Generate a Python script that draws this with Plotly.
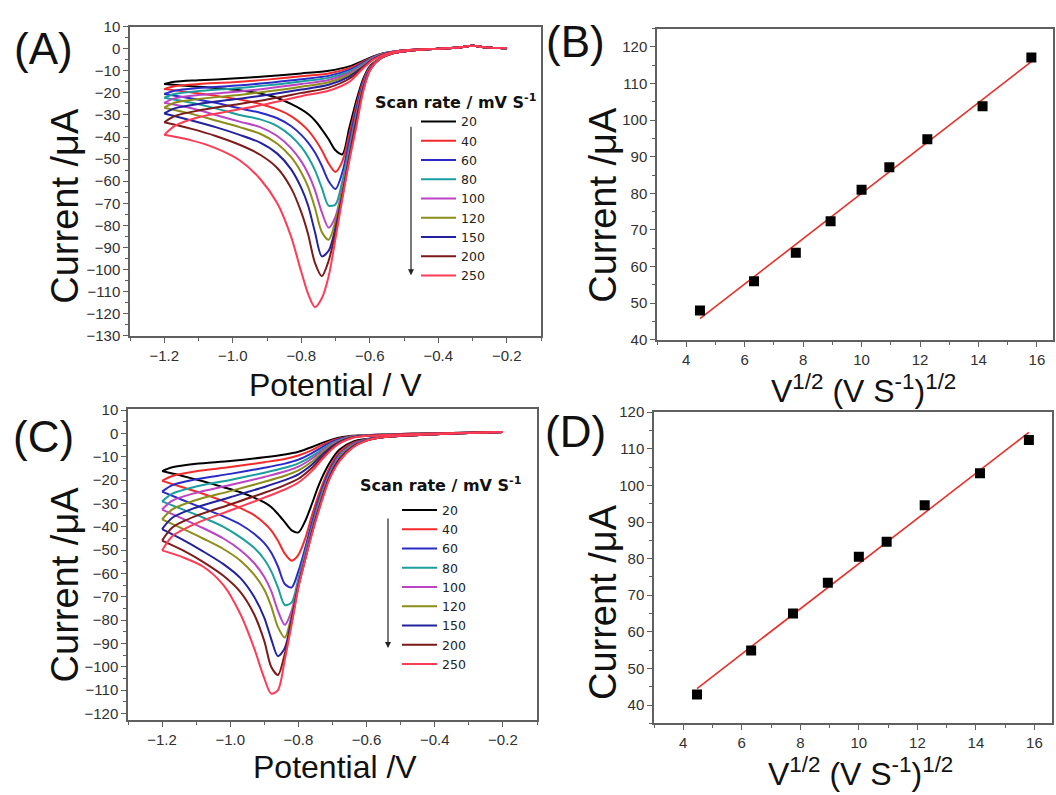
import numpy as np
import plotly.graph_objects as go

W, H = 1056, 795

SCAN_RATES = ["20", "40", "60", "80", "100", "120", "150", "200", "250"]
COLORS = ["#000000", "#f52a2a", "#2b2bc8", "#1a9e9e", "#bb44c4",
          "#8d8d1a", "#22229e", "#7d1a1a", "#ff3b55"]

# ---------------- Panel A : CV curves ----------------
A_FWD_PRE_E = [-0.20, -0.26, -0.30, -0.34, -0.40, -0.48, -0.53, -0.57]
A_FWD_PRE_I = [0.2, 0.6, 1.3, 0.5, 0.0, -0.8, -2.0, -4.5]
A_FWD_E = [-0.60, -0.62, -0.64, -0.66, -0.68, -0.70, -0.72, -0.74, -0.76,
           -0.78, -0.80, -0.83, -0.87, -0.92, -0.98, -1.05, -1.12, -1.20]
A_FWD_20 = [-8, -14, -24, -36, -47.8, -46, -41, -36.5, -32.5, -29.6, -27.5, -25, -22.3, -20.3, -18.8, -17.8, -17, -16]
A_FWD_40 = [-8.5, -15, -26, -39, -51, -55.8, -52, -46, -41, -37, -34, -30.5, -27.5, -25, -23, -21.3, -19.8, -18.3]
A_FWD_60 = [-9, -16, -28, -42, -56, -63.5, -60, -53, -47, -42.5, -39, -35, -31.5, -29, -27, -24.5, -22.5, -20.5]
A_FWD_80 = [-9, -17, -30, -45, -60, -70.5, -71, -63, -55, -49, -44.5, -39.5, -35, -32, -30, -27, -24.5, -22.2]
A_FWD_100 = [-9, -17, -31, -47, -63, -76, -81, -74, -64, -56.5, -51, -45, -39.5, -35.5, -33, -30, -27, -24.5]
A_FWD_120 = [-9.5, -18, -32, -48, -64, -78, -86.5, -83, -72, -62.5, -56, -49, -43, -38.5, -35.5, -32.5, -29.5, -26.7]
A_FWD_150 = [-9.5, -18.5, -33, -49, -66, -81, -91.5, -94, -83, -71, -63, -54.5, -47.5, -42.5, -39, -35.5, -32.5, -29.3]
A_FWD_200 = [-10, -19, -34, -50, -67, -83, -96, -103, -97, -84, -74, -63, -54, -48, -43.5, -39.5, -36.3, -33.3]
A_FWD_250 = [-10, -20, -36, -51, -68, -86, -103, -113, -117, -111, -101, -85, -70, -59, -50.5, -45, -41.5, -39]

A_REV_E = [-1.17, -1.10, -1.00, -0.90, -0.80, -0.72, -0.66, -0.62, -0.59, -0.56]
A_REV_SUF_E = [-0.52, -0.46, -0.40, -0.34, -0.30, -0.26, -0.20]
A_REV_SUF_I = [-1.1, -0.4, 0.0, 0.5, 1.3, 0.6, 0.2]
A_REV_20 = [-15, -14.3, -13.5, -12.5, -11.2, -10, -8, -5.5, -3.5, -2]
A_REV_40 = [-17, -16, -15.2, -14, -12.5, -11.2, -8.8, -6, -3.7, -2.1]
A_REV_60 = [-19, -17.8, -16.8, -15.5, -13.8, -12.3, -9.6, -6.5, -3.9, -2.2]
A_REV_80 = [-20.5, -19.2, -18, -16.6, -14.8, -13.2, -10.3, -7, -4.1, -2.3]
A_REV_100 = [-22.5, -21, -19.6, -18, -16, -14.2, -11, -7.4, -4.3, -2.4]
A_REV_120 = [-24.5, -22.8, -21.2, -19.4, -17.2, -15.2, -11.8, -7.8, -4.5, -2.5]
A_REV_150 = [-27, -25, -23, -21, -18.5, -16.3, -12.6, -8.2, -4.7, -2.6]
A_REV_200 = [-30.5, -28, -25.5, -23, -20, -17.6, -13.6, -8.6, -4.9, -2.7]
A_REV_250 = [-35, -31, -28, -25, -21.5, -19, -15, -9, -5, -2.8]

# ---------------- Panel C : CV curves ----------------
C_FWD_PRE_E = [-0.20, -0.30, -0.40, -0.50, -0.56]
C_FWD_PRE_I = [0.6, 0.2, -0.3, -1.0, -1.7]
C_FWD_E = [-0.60, -0.64, -0.68, -0.71, -0.74, -0.76, -0.78, -0.80, -0.82, -0.84,
           -0.86, -0.88, -0.90, -0.93, -0.97, -1.02, -1.08, -1.14, -1.20]
C_FWD_20 = [-2.3, -3.5, -7, -13, -22, -30, -37.5, -42.4, -41.5, -38, -34.5, -31.5, -29.5, -27.5, -25.2, -23, -20.5, -18.2, -16.1]
C_FWD_40 = [-2.5, -4, -8, -15, -26, -35, -45, -52, -54.5, -51.5, -46, -41.5, -38.5, -35, -32, -29, -25.8, -23, -20.3]
C_FWD_60 = [-2.6, -4.5, -9, -16.5, -28, -38, -49, -59, -66, -64.5, -57, -51, -47, -43, -39, -35.5, -32, -28.5, -24.9]
C_FWD_80 = [-2.7, -4.8, -9.5, -17.5, -29.5, -40, -51, -62, -72.5, -73.5, -66, -59, -54, -49, -44.5, -40, -36, -32.5, -29.1]
C_FWD_100 = [-2.8, -5, -10, -18, -30.5, -41, -52, -63.5, -76, -82, -76, -67.5, -61.5, -55.5, -50, -45, -40.5, -36.5, -32.6]
C_FWD_120 = [-2.9, -5.2, -10.5, -18.5, -31, -41.5, -53, -64.5, -78, -87.5, -83, -74, -67, -60.5, -54.5, -49.5, -45, -40.8, -36.8]
C_FWD_150 = [-2.9, -5.5, -11, -19, -32, -42, -53.5, -65, -79.5, -92, -95.5, -88, -79, -70, -62, -56, -50.5, -45.5, -41]
C_FWD_200 = [-3, -5.8, -11.5, -19.5, -32.5, -42.5, -54, -65.5, -81, -94.5, -103.5, -100, -89, -77.5, -68, -61, -55, -50, -45.9]
C_FWD_250 = [-3, -6, -12, -20, -33, -43, -54, -66, -82, -97, -110, -111.5, -105, -92, -77.5, -65, -57, -53, -50.1]

C_REV_E = [-1.17, -1.10, -1.00, -0.90, -0.84, -0.80, -0.76, -0.73, -0.70, -0.67,
           -0.64, -0.60, -0.50, -0.40, -0.30, -0.20]
C_REV_20 = [-14.5, -13, -11.8, -10.2, -9, -7.8, -5.8, -4, -2.5, -1.5, -1, -0.6, -0.2, 0.1, 0.35, 0.6]
C_REV_40 = [-18.2, -16.2, -14.4, -12.3, -10.9, -9.4, -7.1, -4.9, -3, -1.8, -1.1, -0.7, -0.2, 0.1, 0.35, 0.6]
C_REV_60 = [-22.1, -19.6, -17.3, -14.7, -12.9, -11.2, -8.4, -5.8, -3.5, -2, -1.2, -0.7, -0.25, 0.1, 0.35, 0.6]
C_REV_80 = [-25.8, -22.7, -19.9, -16.8, -14.7, -12.8, -9.7, -6.7, -4, -2.3, -1.3, -0.75, -0.3, 0.05, 0.33, 0.6]
C_REV_100 = [-28.8, -25.4, -22.1, -18.6, -16.3, -14.2, -10.7, -7.4, -4.4, -2.5, -1.4, -0.8, -0.3, 0.05, 0.33, 0.6]
C_REV_120 = [-32.5, -28.5, -24.7, -20.7, -18.1, -15.8, -12, -8.3, -4.9, -2.7, -1.5, -0.85, -0.3, 0.05, 0.32, 0.6]
C_REV_150 = [-36.1, -31.7, -27.3, -22.9, -20, -17.5, -13.3, -9.1, -5.4, -3, -1.6, -0.9, -0.35, 0, 0.31, 0.6]
C_REV_200 = [-40.3, -35.3, -30.4, -25.4, -22.1, -19.4, -14.7, -10.1, -6, -3.3, -1.7, -0.95, -0.4, 0, 0.3, 0.6]
C_REV_250 = [-44, -38.5, -33, -27.5, -24, -21, -16, -11, -6.5, -3.5, -1.8, -1.0, -0.4, 0, 0.3, 0.6]

# ---------------- Panels B and D : peak current vs sqrt(scan rate) ----------------
SQRT_V = [4.47, 6.32, 7.75, 8.94, 10.0, 10.95, 12.25, 14.14, 15.81]
B_IP = [48, 56, 63.8, 72.4, 81, 87.1, 94.8, 103.8, 117.1]
D_IP = [42.9, 54.9, 65, 73.4, 80.5, 84.6, 94.6, 103.3, 112.4]

A_FWD = [A_FWD_20, A_FWD_40, A_FWD_60, A_FWD_80, A_FWD_100, A_FWD_120, A_FWD_150, A_FWD_200, A_FWD_250]
A_REV = [A_REV_20, A_REV_40, A_REV_60, A_REV_80, A_REV_100, A_REV_120, A_REV_150, A_REV_200, A_REV_250]
C_FWD = [C_FWD_20, C_FWD_40, C_FWD_60, C_FWD_80, C_FWD_100, C_FWD_120, C_FWD_150, C_FWD_200, C_FWD_250]
C_REV = [C_REV_20, C_REV_40, C_REV_60, C_REV_80, C_REV_100, C_REV_120, C_REV_150, C_REV_200, C_REV_250]

FONT = "Liberation Sans, Arial, sans-serif"
LEG_FONT = "DejaVu Sans, Liberation Sans, sans-serif"


def px_x(p):
    return p / W


def px_y(p):
    return 1 - p / H


fig = go.Figure()

# Panel A traces
for name, col, fwd, rev in zip(SCAN_RATES, COLORS, A_FWD, A_REV):
    fig.add_trace(go.Scatter(
        x=A_FWD_PRE_E + A_FWD_E, y=A_FWD_PRE_I + fwd, mode="lines",
        line=dict(color=col, width=2, shape="spline", smoothing=0.8),
        name=name, legend="legend", xaxis="x", yaxis="y"))
    fig.add_trace(go.Scatter(
        x=[A_FWD_E[-1]] + A_REV_E + A_REV_SUF_E, y=[fwd[-1]] + rev + A_REV_SUF_I,
        mode="lines", line=dict(color=col, width=2, shape="spline", smoothing=0.8),
        name=name, showlegend=False, xaxis="x", yaxis="y"))

# Panel C traces
for name, col, fwd, rev in zip(SCAN_RATES, COLORS, C_FWD, C_REV):
    fig.add_trace(go.Scatter(
        x=C_FWD_PRE_E + C_FWD_E, y=C_FWD_PRE_I + fwd, mode="lines",
        line=dict(color=col, width=2, shape="spline", smoothing=0.8),
        name=name, legend="legend2", xaxis="x3", yaxis="y3"))
    fig.add_trace(go.Scatter(
        x=[C_FWD_E[-1]] + C_REV_E, y=[fwd[-1]] + rev,
        mode="lines", line=dict(color=col, width=2, shape="spline", smoothing=0.8),
        name=name, showlegend=False, xaxis="x3", yaxis="y3"))

# Panels B and D: points + linear fit
for ip, xa, ya in [(B_IP, "x2", "y2"), (D_IP, "x4", "y4")]:
    slope, icpt = np.polyfit(SQRT_V, ip, 1)
    xs = [SQRT_V[0], SQRT_V[-1]]
    fig.add_trace(go.Scatter(x=xs, y=[slope * v + icpt for v in xs], mode="lines",
                             line=dict(color="#e8302a", width=1.6),
                             showlegend=False, xaxis=xa, yaxis=ya))
    fig.add_trace(go.Scatter(x=SQRT_V, y=ip, mode="markers",
                             marker=dict(symbol="square", size=10, color="#000000"),
                             showlegend=False, xaxis=xa, yaxis=ya))

axis_common = dict(showgrid=False, zeroline=False, showline=True, mirror=True,
                   linecolor="#606060", linewidth=1.5, ticks="outside", ticklen=5,
                   tickwidth=1.2, tickcolor="#606060",
                   tickfont=dict(family=FONT, size=15, color="#303030"))


def ax(domain, rng, dtick, minor_dtick, **kw):
    d = dict(axis_common)
    d.update(domain=domain, range=rng, dtick=dtick,
             minor=dict(dtick=minor_dtick, ticklen=3, tickcolor="#606060", ticks="outside"))
    d.update(kw)
    return d


fig.update_layout(
    width=W, height=H, margin=dict(l=0, r=0, t=0, b=0),
    paper_bgcolor="white", plot_bgcolor="white",
    font=dict(family=FONT, color="#111111"),
    xaxis=ax([px_x(130), px_x(541)], [-1.3, -0.1], 0.2, 0.1, tick0=-1.2, tickformat=".1f", anchor="y"),
    yaxis=ax([px_y(334), px_y(18)], [-130, 10], 10, 5, tick0=0, anchor="x"),
    xaxis2=ax([px_x(657), px_x(1053)], [3, 16.55], 2, 1, tick0=4, anchor="y2"),
    yaxis2=ax([px_y(338), px_y(20)], [40, 125], 10, 5, tick0=40, anchor="x2"),
    xaxis3=ax([px_x(128), px_x(537)], [-1.3, -0.1], 0.2, 0.1, tick0=-1.2, tickformat=".1f", anchor="y3"),
    yaxis3=ax([px_y(727), px_y(409)], [-123, 10.4], 10, 5, tick0=0, anchor="x3"),
    xaxis4=ax([px_x(654), px_x(1052)], [3, 16.6], 2, 1, tick0=4, anchor="y4"),
    yaxis4=ax([px_y(730), px_y(412)], [35, 120], 10, 5, tick0=40, anchor="x4"),
    legend=dict(x=px_x(416), y=px_y(100), xanchor="left", yanchor="top",
                bgcolor="rgba(0,0,0,0)", font=dict(family=LEG_FONT, size=12.5, color="#222"),
                itemwidth=35, tracegroupgap=0),
    legend2=dict(x=px_x(397), y=px_y(497), xanchor="left", yanchor="top",
                 bgcolor="rgba(0,0,0,0)", font=dict(family=LEG_FONT, size=12.5, color="#222"),
                 itemwidth=35, tracegroupgap=0),
)

ann = []


def text(x, y, s, size, angle=0, bold=False, family=FONT):
    ann.append(dict(x=px_x(x), y=px_y(y), xref="paper", yref="paper", text=s,
                    showarrow=False, xanchor="center", yanchor="middle", textangle=angle,
                    font=dict(family=family, size=size, color="#111111",
                              weight="bold" if bold else "normal")))


# panel labels
text(43, 40, "(A)", 44)
text(575, 33, "(B)", 44)
text(43, 437, "(C)", 44)
text(575, 432, "(D)", 44)
# axis titles
text(65, 201, "Current /μA", 38, angle=-90)
text(603, 200, "Current /μA", 38, angle=-90)
text(65, 588, "Current /μA", 38, angle=-90)
text(603, 606, "Current /μA", 38, angle=-90)
text(335, 384, "Potential / V", 32)
text(335, 775, "Potential /V", 32)
text(863, 388, "V<sup>1/2</sup> (V S<sup>-1</sup>)<sup>1/2</sup>", 32)
text(860, 780, "V<sup>1/2</sup> (V S<sup>-1</sup>)<sup>1/2</sup>", 32)
# legend titles
text(456, 95, "Scan rate / mV S<sup>-1</sup>", 16, bold=True, family=LEG_FONT)
text(441, 486, "Scan rate / mV S<sup>-1</sup>", 16, bold=True, family=LEG_FONT)

# arrows beside legends
for xh, yh, length in [(411, 272, 150), (388, 653, 131)]:
    ann.append(dict(x=px_x(xh), y=px_y(yh), xref="paper", yref="paper", text="",
                    showarrow=True, arrowhead=2, arrowsize=1, arrowwidth=1.2,
                    arrowcolor="#222222", ax=0, ay=-length))

fig.update_layout(annotations=ann)

fig.write_html("out.html", config={"displayModeBar": False},
               post_script="document.body.style.margin='0';document.body.style.overflow='hidden';")
